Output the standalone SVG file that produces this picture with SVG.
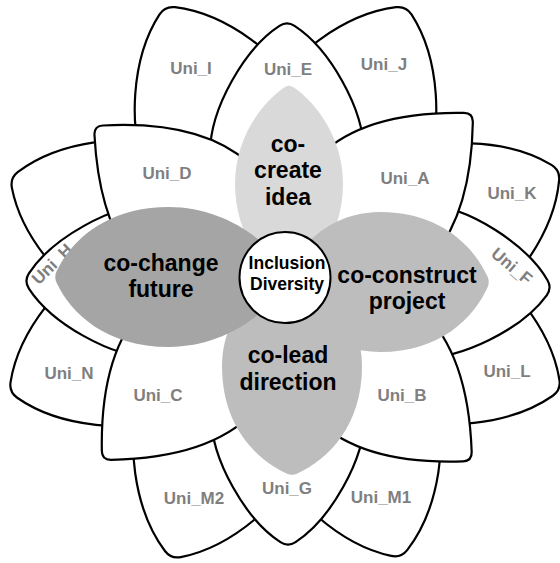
<svg xmlns="http://www.w3.org/2000/svg" width="560" height="563" viewBox="0 0 560 563">
  <style>
    .petal { fill: #ffffff; stroke: #000000; stroke-width: 2.2; stroke-linejoin: round; }
    .uni { font-family: "Liberation Sans", Arial, sans-serif; font-weight: bold; font-size: 17px; fill: #7f7f7f; text-anchor: middle; }
    .core { font-family: "Liberation Sans", Arial, sans-serif; font-weight: bold; font-size: 23px; fill: #000000; text-anchor: middle; }
    .hub { font-family: "Liberation Sans", Arial, sans-serif; font-weight: bold; font-size: 17.5px; fill: #000000; text-anchor: middle; }
  </style>
  <defs>
    <!-- petal outlines: tip at the origin, body running down +y -->
    <path id="pO" d="M 0,302 C 40,272 88,212 88,152 C 88,95 50.9,31.8 8.5,5.3 Q 0,0 -8.5,5.3 C -50.9,31.8 -88,95 -88,152 C -88,212 -40,272 0,302 Z"/>
    <path id="pE" d="M 0,263 C 35,233 77,183 77,132 C 77,87 41.9,27.2 7.55,4.9 Q 0,0 -7.55,4.9 C -41.9,27.2 -77,87 -77,132 C -77,183 -35,233 0,263 Z"/>
    <path id="pA" d="M 0,260 C 35,240 76,200 76,140 C 76,80 28.3,28.3 6.4,6.4 Q 0,0 -6.4,6.4 C -28.3,28.3 -76,80 -76,140 C -76,200 -35,240 0,260 Z"/>
    <path id="gW" d="M 0,205 C 35,195 70,160 70,110 C 70,50 36.3,16.9 5.4,2.5 Q 0,0 -5.4,2.5 C -36.3,16.9 -70,50 -70,110 C -70,160 -35,195 0,205 Z"/>
    <path id="gL" d="M 0,232 C 35,220 70,170 70,115 C 70,52 36.3,16.9 5.4,2.5 Q 0,0 -5.4,2.5 C -36.3,16.9 -70,52 -70,115 C -70,170 -35,220 0,232 Z"/>
    <path id="gN" d="M 0,200 C 30,185 54,145 54,100 C 54,55 28.7,20.1 4.9,3.4 Q 0,0 -4.9,3.4 C -28.7,20.1 -54,55 -54,100 C -54,145 -30,185 0,200 Z"/>
  </defs>

  <!-- outer ring -->
  <g id="uni-p"><use href="#pO" class="petal" transform="translate(10,178) rotate(291)"/></g>
  <g id="uni-i"><use href="#pO" class="petal" transform="translate(165,6) rotate(-25)"/><text class="uni" x="191" y="74">Uni_I</text></g>
  <g id="uni-j"><use href="#pO" class="petal" transform="translate(406,6) rotate(25)"/><text class="uni" x="384" y="70">Uni_J</text></g>
  <g id="uni-k"><use href="#pO" class="petal" transform="translate(560,170) rotate(63)"/><text class="uni" x="512" y="199">Uni_K</text></g>
  <g id="uni-l"><use href="#pO" class="petal" transform="translate(561,390) rotate(113)"/><text class="uni" x="507" y="377">Uni_L</text></g>
  <g id="uni-m1"><use href="#pO" class="petal" transform="translate(401,558) rotate(160)"/><text class="uni" x="381" y="503">Uni_M1</text></g>
  <g id="uni-m2"><use href="#pO" class="petal" transform="translate(171,559) rotate(201)"/><text class="uni" x="194" y="504">Uni_M2</text></g>
  <g id="uni-n"><use href="#pO" class="petal" transform="translate(9,392) rotate(247)"/><text class="uni" x="69" y="379">Uni_N</text></g>

  <!-- second ring -->
  <g id="uni-e"><use href="#pE" class="petal" transform="translate(287,21)"/><text class="uni" x="288" y="75">Uni_E</text></g>
  <g id="uni-f"><use href="#pE" class="petal" transform="translate(552,288) rotate(93)"/><text class="uni" transform="translate(512,266) rotate(40)" x="0" y="6">Uni_F</text></g>
  <g id="uni-g"><use href="#pE" class="petal" transform="translate(288,547) rotate(180)"/><text class="uni" x="287" y="494">Uni_G</text></g>
  <g id="uni-h"><use href="#pE" class="petal" transform="translate(24,281) rotate(270)"/><text class="uni" transform="translate(52,264) rotate(-45)" x="0" y="6">Uni_H</text></g>

  <!-- third ring -->
  <g id="uni-a"><use href="#pA" class="petal" transform="translate(473,113) rotate(46)"/><text class="uni" x="405" y="184">Uni_A</text></g>
  <g id="uni-b"><use href="#pA" class="petal" transform="translate(472,461) rotate(133)"/><text class="uni" x="402" y="401">Uni_B</text></g>
  <g id="uni-c"><use href="#pA" class="petal" transform="translate(102,460) rotate(224)"/><text class="uni" x="158" y="401">Uni_C</text></g>
  <g id="uni-d"><use href="#pA" class="petal" transform="translate(94,126) rotate(312)"/><text class="uni" x="167" y="179">Uni_D</text></g>

  <!-- activity petals -->
  <g id="co-create"><use href="#gN" fill="#d9d9d9" transform="translate(289,84)"/>
    <text class="core" x="288" y="152">co-</text><text class="core" x="288" y="178">create</text><text class="core" x="288" y="205">idea</text></g>
  <g id="co-construct"><use href="#gW" fill="#bdbdbd" transform="translate(490,282) rotate(90)"/>
    <text class="core" x="407" y="283">co-construct</text><text class="core" x="407" y="309">project</text></g>
  <g id="co-lead"><use href="#gW" fill="#bdbdbd" transform="translate(292,476) rotate(180)"/>
    <text class="core" x="288" y="363">co-lead</text><text class="core" x="288" y="390">direction</text></g>
  <g id="co-change"><use href="#gL" fill="#a5a5a5" transform="translate(54,277) rotate(270)"/>
    <text class="core" x="161" y="271">co-change</text><text class="core" x="161" y="297">future</text></g>

  <!-- hub -->
  <g id="hub">
    <circle cx="285" cy="277.5" r="45.5" fill="#ffffff" stroke="#000000" stroke-width="2"/>
    <text class="hub" x="287" y="269">Inclusion</text><text class="hub" x="287" y="290">Diversity</text>
  </g>
</svg>
